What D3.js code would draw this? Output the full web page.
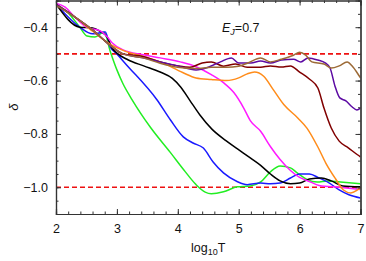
<!DOCTYPE html>
<html>
<head>
    <script src="https://d3js.org/d3.v7.min.js"></script>
    <style>
        body { margin: 0; background: #fff; }
        text { font-family: "Liberation Sans", Arial, sans-serif; fill: #111; }
    </style>
</head>
<body>
    <svg id="chart" width="366" height="261"></svg>
    <script>
        // x ticks / y ticks
        const xTicks = [2, 3, 4, 5, 6, 7];
        const yTicks = [-0.4, -0.6, -0.8, -1.0];
        const refLines = [-0.5, -1.0];

        // [log10T, delta]
        const green = [[2.0, -0.313], [2.23, -0.354], [2.39, -0.40], [2.51, -0.433], [2.64, -0.437], [2.79, -0.418],
            [2.89, -0.49], [3.0, -0.56], [3.1, -0.612], [3.25, -0.672], [3.55, -0.775], [3.88, -0.87], [4.1, -0.935],
            [4.3, -0.99], [4.45, -1.018], [4.55, -1.024], [4.75, -1.017], [4.98, -0.998], [5.19, -0.995],
            [5.36, -0.98], [5.52, -0.942], [5.68, -0.92], [5.85, -0.927], [5.96, -0.946], [6.13, -0.972],
            [6.29, -0.98], [6.46, -0.976], [6.67, -0.98], [7.0, -0.987]];
        const blue = [[2.0, -0.313], [2.39, -0.40], [2.6, -0.425], [2.81, -0.418], [2.89, -0.474], [3.0, -0.50],
            [3.13, -0.534], [3.66, -0.673], [3.88, -0.748], [4.09, -0.811], [4.25, -0.834], [4.42, -0.853],
            [4.58, -0.905], [4.75, -0.946], [4.98, -0.979], [5.14, -0.99], [5.36, -0.984], [5.52, -0.987],
            [5.68, -0.984], [5.85, -0.965], [6.0, -0.95], [6.16, -0.95], [6.32, -0.965], [6.49, -0.984],
            [6.65, -1.01], [6.81, -1.028], [7.0, -1.04]];
        const black = [[2.0, -0.313], [2.39, -0.40], [2.6, -0.403], [2.72, -0.415], [2.84, -0.437], [2.92, -0.478],
            [3.0, -0.497], [3.18, -0.522], [3.44, -0.545], [3.71, -0.568], [3.91, -0.592], [4.05, -0.625],
            [4.2, -0.675], [4.36, -0.728], [4.56, -0.782], [4.79, -0.825], [4.98, -0.856], [5.19, -0.89],
            [5.36, -0.918], [5.52, -0.95], [5.68, -0.976], [5.85, -0.987], [6.0, -0.984], [6.16, -0.969],
            [6.36, -0.965], [6.52, -0.976], [6.71, -0.995], [7.0, -0.998]];
        const magenta = [[2.0, -0.31], [2.15, -0.325], [2.3, -0.36], [2.5, -0.40], [2.72, -0.413], [2.84, -0.436],
            [2.92, -0.458], [3.1, -0.485], [3.43, -0.503], [3.71, -0.515], [4.04, -0.53], [4.3, -0.548],
            [4.55, -0.578], [4.75, -0.608], [4.92, -0.645], [5.08, -0.702], [5.19, -0.75], [5.36, -0.79],
            [5.52, -0.847], [5.68, -0.896], [5.85, -0.937], [6.0, -0.963], [6.16, -0.978], [6.32, -0.993],
            [6.65, -1.0], [7.0, -1.008]];
        const orange = [[2.0, -0.315], [2.3, -0.36], [2.6, -0.415], [2.9, -0.465], [3.1, -0.487], [3.43, -0.51],
            [3.71, -0.53], [4.08, -0.57], [4.3, -0.59], [4.55, -0.596], [4.8, -0.6], [5.0, -0.59], [5.14, -0.575],
            [5.26, -0.568], [5.41, -0.584], [5.57, -0.635], [5.74, -0.69], [5.97, -0.74], [6.12, -0.778],
            [6.3, -0.849], [6.43, -0.909], [6.59, -0.968], [6.72, -1.01], [6.84, -1.021], [6.95, -1.01], [7.0, -1.002]];
        const maroon = [[2.0, -0.315], [2.3, -0.36], [2.6, -0.41], [2.9, -0.47], [3.1, -0.50], [3.43, -0.51],
            [3.71, -0.53], [4.0, -0.545], [4.2, -0.55], [4.4, -0.534], [4.55, -0.53], [4.75, -0.546],
            [4.95, -0.538], [5.14, -0.55], [5.36, -0.55], [5.52, -0.545], [5.7, -0.549], [5.85, -0.545],
            [6.0, -0.568], [6.16, -0.594], [6.3, -0.628], [6.4, -0.703], [6.52, -0.778], [6.65, -0.827],
            [6.8, -0.852], [6.95, -0.878], [7.0, -0.886]];
        const purple = [[2.0, -0.315], [2.3, -0.36], [2.6, -0.41], [2.9, -0.47], [3.1, -0.50], [3.43, -0.515],
            [3.71, -0.53], [4.0, -0.545], [4.3, -0.56], [4.5, -0.55], [4.7, -0.53], [4.88, -0.515], [5.0, -0.534],
            [5.2, -0.534], [5.36, -0.527], [5.52, -0.534], [5.7, -0.523], [5.9, -0.52], [6.02, -0.53],
            [6.14, -0.515], [6.3, -0.523], [6.42, -0.534], [6.5, -0.553], [6.58, -0.62], [6.66, -0.665],
            [6.76, -0.676], [6.86, -0.698], [6.94, -0.71], [7.0, -0.703]];
        const brown = [[2.0, -0.318], [2.3, -0.36], [2.6, -0.41], [2.9, -0.47], [3.1, -0.50], [3.43, -0.515],
            [3.71, -0.535], [4.0, -0.55], [4.3, -0.555], [4.55, -0.55], [4.8, -0.55], [5.0, -0.546],
            [5.15, -0.534], [5.36, -0.515], [5.52, -0.53], [5.7, -0.52], [5.9, -0.505], [6.0, -0.494],
            [6.1, -0.505], [6.2, -0.53], [6.4, -0.538], [6.52, -0.553], [6.65, -0.545], [6.78, -0.53],
            [6.88, -0.55], [6.98, -0.583], [7.0, -0.59]];

        const series = [
            { name: "green", values: green, color: "#22ee22" },
            { name: "blue", values: blue, color: "#1a1aff" },
            { name: "black", values: black, color: "#000000" },
            { name: "magenta", values: magenta, color: "#ff1aff" },
            { name: "orange", values: orange, color: "#ff8c1a" },
            { name: "maroon", values: maroon, color: "#800000" },
            { name: "purple", values: purple, color: "#5c0aa3" },
            { name: "brown", values: brown, color: "#9c6a36" }
        ];

        const svg = d3.select("#chart");
        const margin = { top: 0.5, right: 5.5, bottom: 47, left: 56 };
        const width = 366, height = 261;
        const plotW = width - margin.left - margin.right;
        const plotH = height - margin.top - margin.bottom;

        const x = d3.scaleLinear().domain([2, 7]).range([0, plotW]);
        const y = d3.scaleLinear().domain([-1.1, -0.3]).range([plotH, 0]);

        const g = svg.append("g")
            .attr("transform", `translate(${margin.left},${margin.top})`);

        g.append("clipPath").attr("id", "clip")
            .append("rect").attr("width", plotW).attr("height", plotH);

        const plot = g.append("g").attr("clip-path", "url(#clip)");

        // reference dashed lines
        plot.selectAll("line.ref").data(refLines)
            .join("line")
            .attr("class", "ref")
            .attr("x1", 0).attr("x2", plotW)
            .attr("y1", d => y(d)).attr("y2", d => y(d))
            .attr("stroke", "#ee1111")
            .attr("stroke-width", 1.6)
            .attr("stroke-dasharray", "5,3");

        const lineGen = d3.line()
            .x(d => x(d[0]))
            .y(d => y(d[1]))
            .curve(d3.curveMonotoneX);

        plot.selectAll("path.series").data(series)
            .join("path")
            .attr("class", "series")
            .attr("d", d => lineGen(d.values))
            .attr("fill", "none")
            .attr("stroke", d => d.color)
            .attr("stroke-width", 1.5);

        // frame with inward ticks on all sides
        const axisColor = "#333";
        const xMinor = d3.range(2, 7.001, 0.2);
        const yMinor = d3.range(-1.1, -0.299, 0.05);

        const bottomMajor = d3.axisBottom(x).tickValues(xTicks).tickSize(-5).tickPadding(10).tickFormat(d3.format("d"));
        const bottomMinor = d3.axisBottom(x).tickValues(xMinor).tickSize(-2.5).tickFormat("");
        const topMajor = d3.axisTop(x).tickValues(xTicks).tickSize(-5).tickFormat("");
        const topMinor = d3.axisTop(x).tickValues(xMinor).tickSize(-2.5).tickFormat("");
        const leftMajor = d3.axisLeft(y).tickValues(yTicks).tickSize(-5).tickPadding(8)
            .tickFormat(d => d3.format(".1f")(d).replace("-", "\u2212"));
        const leftMinor = d3.axisLeft(y).tickValues(yMinor).tickSize(-2.5).tickFormat("");
        const rightMajor = d3.axisRight(y).tickValues(yTicks).tickSize(-5).tickFormat("");
        const rightMinor = d3.axisRight(y).tickValues(yMinor).tickSize(-2.5).tickFormat("");

        const axes = [
            [bottomMajor, `translate(0,${plotH})`], [bottomMinor, `translate(0,${plotH})`],
            [topMajor, "translate(0,0)"], [topMinor, "translate(0,0)"],
            [leftMajor, "translate(0,0)"], [leftMinor, "translate(0,0)"],
            [rightMajor, `translate(${plotW},0)`], [rightMinor, `translate(${plotW},0)`]
        ];
        axes.forEach(([ax, tr]) => {
            const a = g.append("g").attr("transform", tr).call(ax);
            a.select(".domain").attr("stroke", axisColor).attr("stroke-width", 1.2);
            a.selectAll(".tick line").attr("stroke", axisColor);
            a.selectAll("text").style("font-size", "12.5px").attr("fill", "#111");
        });

        // axis labels
        svg.append("text")
            .attr("transform", `translate(15,${margin.top + plotH / 2}) rotate(-90)`)
            .attr("text-anchor", "middle")
            .attr("dominant-baseline", "middle")
            .style("font-size", "13px")
            .style("font-style", "italic")
            .text("δ");

        const xl = svg.append("text")
            .attr("x", margin.left + plotW / 2)
            .attr("y", 252)
            .attr("text-anchor", "middle")
            .style("font-size", "12.5px");
        xl.append("tspan").text("log");
        xl.append("tspan").attr("dy", 3).style("font-size", "9px").text("10");
        xl.append("tspan").attr("dy", -3).text("T");

        const ej = svg.append("text")
            .attr("x", 222)
            .attr("y", 32)
            .style("font-size", "12.5px");
        ej.append("tspan").style("font-style", "italic").text("E");
        ej.append("tspan").attr("dy", 3).style("font-size", "9px").style("font-style", "italic").text("J");
        ej.append("tspan").attr("dy", -3).text("=0.7");
    </script>
</body>
</html>
